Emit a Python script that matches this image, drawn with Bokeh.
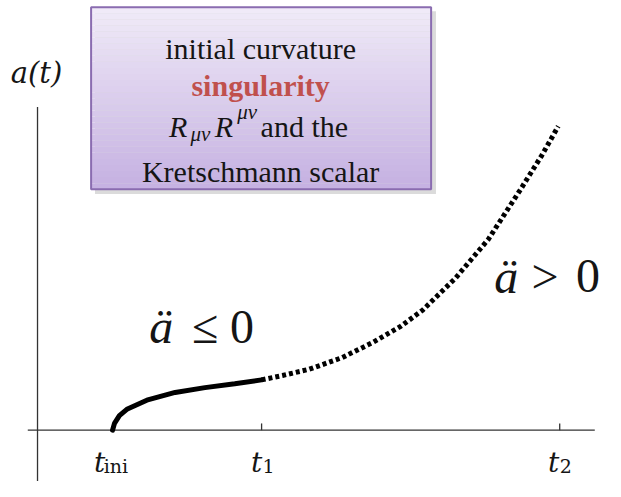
from bokeh.plotting import figure
from bokeh.models import Range1d
from bokeh.core.properties import value
from bokeh.embed import file_html
from bokeh.resources import INLINE

# ---- data (t in units where t_ini=0, t1=1, t2=3) ----
tick_t = [0.0, 1.0, 3.0]
tick_main = ["t", "t", "t"]
tick_sub = ["ini", "1", "2"]
t_solid = [0.0, 0.013, 0.046, 0.1, 0.23, 0.42, 0.62, 0.82, 1.0]
a_solid = [0.0, 0.07, 0.15, 0.22, 0.31, 0.39, 0.44, 0.48, 0.52]
t_dotted = [1.0, 1.14, 1.32, 1.54, 1.75, 1.93, 2.08, 2.30, 2.52, 2.73, 2.88, 2.99]
a_dotted = [0.52, 0.565, 0.63, 0.75, 0.91, 1.07, 1.24, 1.57, 1.97, 2.47, 2.84, 3.14]


# helpers: layout position (in reference pixels) -> data units
def X(sx):
    return (sx - 115) / 153.0


def Y(sy):
    return (444 - sy) / 100.0


K = 0.97  # font scale
def fs(px):
    return "%dpx" % round(px * K)


SERIF = value("Liberation Serif")
DJ = value("DejaVu Serif")
INK = "#151515"

p = figure(width=605, height=481, output_backend="svg", toolbar_location=None,
           x_range=Range1d(X(0), X(621)), y_range=Range1d(Y(497), Y(0)),
           min_border=0)
p.axis.visible = False
p.grid.visible = False
p.outline_line_color = None
p.background_fill_color = "white"

# axes lines
p.line([X(38), X(38)], [Y(497), Y(110)], line_color="#333333", line_width=1.3)
p.line([X(28), X(610)], [0, 0], line_color="#333333", line_width=1.3)
p.segment(x0=tick_t[1:], y0=[0, 0], x1=tick_t[1:], y1=[0.07, 0.07],
          line_color="#333333", line_width=1.3)

# curve
p.line(t_solid, a_solid, line_color="black", line_width=5, line_cap="round")
p.line(t_dotted, a_dotted, line_color="black", line_width=5, line_dash="4 3")

# tick labels
p.text(x=[X(96), X(257), X(562)], y=[Y(477)] * 3, text=tick_main,
       text_font=DJ, text_font_style="italic", text_font_size=fs(29),
       text_align="left", text_baseline="alphabetic", text_color=INK)
p.text(x=[X(106), X(269), X(574)], y=[Y(481)] * 3, text=tick_sub,
       text_font=DJ, text_font_size=fs(20),
       text_align="left", text_baseline="alphabetic", text_color=INK)

# y label
p.text(x=[X(37)], y=[Y(75)], text=["a(t)"], text_font=DJ,
       text_font_style="italic", text_font_size=fs(30), text_align="center",
       text_baseline="middle", text_color=INK)

# region labels
p.text(x=[X(165), X(519)], y=[Y(337), Y(285)], text=["ä", "ä"], text_font=SERIF,
       text_font_style="italic", text_font_size=fs(50), text_align="center",
       text_baseline="alphabetic", text_color=INK)
p.text(x=[X(210), X(559)], y=[Y(337), Y(285)], text=["≤", ">"], text_font=SERIF,
       text_font_size=fs(50), text_align="center", text_baseline="alphabetic", text_color=INK)
p.text(x=[X(248), X(603)], y=[Y(337), Y(285)], text=["0", "0"], text_font=SERIF,
       text_font_size=fs(50), text_align="center", text_baseline="alphabetic", text_color=INK)

# box with gradient and shadow
bx0, bx1, by0, by1 = X(93), X(442), Y(195), Y(7)
p.quad(left=[X(97)], right=[X(447)], top=[Y(11)], bottom=[Y(200)],
       fill_color="#888888", fill_alpha=0.3, line_color=None)
n = 30
c0 = (0xF0, 0xEA, 0xF8)
c1 = (0xC6, 0xB2, 0xE2)
tops, bots, cols = [], [], []
for i in range(n):
    f = i / (n - 1)
    tops.append(by1 - (by1 - by0) * i / n)
    bots.append(by1 - (by1 - by0) * (i + 1) / n)
    cols.append("#%02x%02x%02x" % tuple(int(c0[k] + (c1[k] - c0[k]) * f) for k in range(3)))
p.quad(left=bx0, right=bx1, top=tops, bottom=bots, fill_color=cols, line_color=None)
p.quad(left=[bx0], right=[bx1], top=[by1], bottom=[by0], fill_color=None,
       line_color="#8a6cb0", line_width=2)

p.text(x=[X(267)] * 3, y=[Y(50), Y(88), Y(177)],
       text=["initial curvature", "singularity", "Kretschmann scalar"],
       text_font=SERIF, text_font_size=fs(31), text_align="center", text_baseline="alphabetic",
       text_color=[INK, "#c0504d", INK],
       text_font_style=["normal", "bold", "normal"])
# R_{mu nu} R^{mu nu} and the
p.text(x=[X(173), X(220)], y=[Y(130)] * 2, text=["R", "R"],
       text_font=SERIF, text_font_style="italic", text_font_size=fs(31),
       text_align="left", text_baseline="alphabetic", text_color=INK)
p.text(x=[X(195), X(243)], y=[Y(138), Y(115)], text=["μν", "μν"],
       text_font=SERIF, text_font_style="italic", text_font_size=fs(22),
       text_align="left", text_baseline="alphabetic", text_color=INK)
p.text(x=[X(267)], y=[Y(130)], text=["and the"],
       text_font=SERIF, text_font_size=fs(31),
       text_align="left", text_baseline="alphabetic", text_color=INK)

open("out.html", "w").write(file_html(p, INLINE))
